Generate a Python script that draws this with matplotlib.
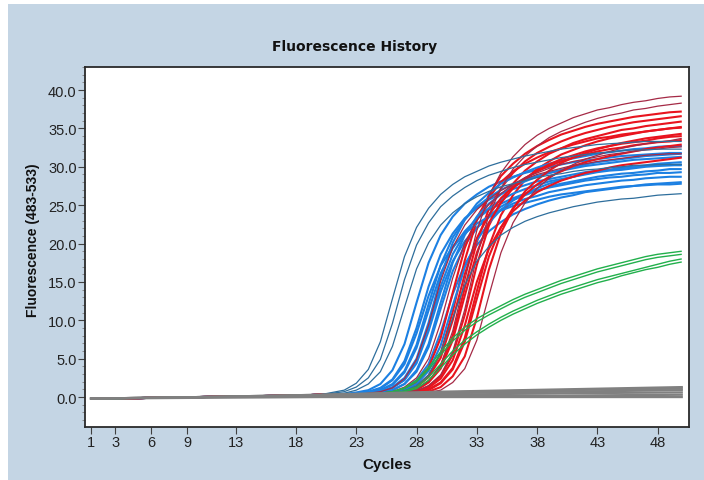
import matplotlib
matplotlib.use("Agg")
import matplotlib.pyplot as plt
from matplotlib.patches import Rectangle
from matplotlib.ticker import MultipleLocator
from matplotlib import font_manager

# flat start shared by all amplification curves (cycles 1-20)
early_cycles = [1, 3, 6, 10, 14, 18, 20]
early_values = [-0.2, -0.2, -0.1, 0.0, 0.1, 0.2, 0.3]
late_cycles = list(range(21, 51))

# fluorescence for cycles 21..50
red_bright = [
    [0.3, 0.3, 0.3, 0.3, 0.3, 0.5, 0.7, 1.4, 2.8, 5.7, 11.1, 17.8, 23.0, 26.3, 28.8, 30.4, 31.7, 32.7, 33.5, 34.2, 34.7, 35.2, 35.6, 35.9, 36.2, 36.5, 36.7, 36.9, 37.1, 37.2],
    [0.3, 0.3, 0.3, 0.3, 0.3, 0.4, 0.6, 1.0, 2.0, 4.0, 8.0, 14.2, 20.2, 24.5, 27.2, 29.2, 30.7, 31.8, 32.6, 33.3, 33.9, 34.4, 34.8, 35.2, 35.5, 35.8, 36.0, 36.2, 36.4, 36.6],
    [0.3, 0.3, 0.3, 0.3, 0.3, 0.3, 0.5, 0.7, 1.4, 2.7, 5.5, 10.7, 17.2, 22.3, 25.5, 27.8, 29.5, 30.7, 31.7, 32.4, 33.1, 33.6, 34.0, 34.4, 34.8, 35.0, 35.3, 35.5, 35.7, 35.9],
    [0.3, 0.3, 0.3, 0.3, 0.3, 0.3, 0.4, 0.6, 1.0, 1.9, 3.8, 7.7, 13.8, 19.6, 23.7, 26.3, 28.3, 29.7, 30.7, 31.6, 32.2, 32.8, 33.3, 33.7, 34.0, 34.3, 34.6, 34.8, 35.0, 35.2],
    [0.3, 0.3, 0.3, 0.3, 0.4, 0.6, 1.0, 1.9, 3.8, 7.7, 13.6, 19.4, 23.4, 26.0, 28.0, 29.4, 30.4, 31.2, 31.9, 32.4, 32.9, 33.3, 33.7, 33.9, 34.2, 34.4, 34.6, 34.8, 35.0, 35.1],
    [0.3, 0.3, 0.3, 0.3, 0.3, 0.3, 0.3, 0.5, 0.7, 1.3, 2.7, 5.3, 10.3, 16.6, 21.4, 24.5, 26.8, 28.3, 29.5, 30.5, 31.2, 31.8, 32.3, 32.7, 33.1, 33.4, 33.7, 33.9, 34.1, 34.3],
    [0.3, 0.3, 0.3, 0.3, 0.3, 0.4, 0.6, 0.9, 1.9, 3.7, 7.4, 13.2, 18.8, 22.7, 25.3, 27.2, 28.5, 29.5, 30.3, 31.0, 31.5, 32.0, 32.4, 32.7, 33.0, 33.2, 33.4, 33.7, 33.9, 34.0],
    [0.3, 0.3, 0.3, 0.3, 0.3, 0.5, 0.7, 1.3, 2.6, 5.1, 10.0, 16.0, 20.7, 23.7, 25.9, 27.4, 28.5, 29.4, 30.1, 30.7, 31.2, 31.6, 32.0, 32.3, 32.5, 32.8, 33.0, 33.2, 33.3, 33.5],
    [0.3, 0.3, 0.3, 0.3, 0.3, 0.3, 0.4, 0.6, 0.9, 1.8, 3.6, 7.2, 12.8, 18.3, 22.1, 24.6, 26.4, 27.7, 28.7, 29.4, 30.1, 30.6, 31.0, 31.4, 31.7, 32.0, 32.3, 32.5, 32.7, 32.9],
    [0.3, 0.3, 0.3, 0.3, 0.3, 0.3, 0.5, 0.7, 1.2, 2.4, 4.8, 9.3, 15.0, 19.3, 22.1, 24.2, 25.6, 26.7, 27.5, 28.2, 28.7, 29.2, 29.5, 29.9, 30.2, 30.4, 30.6, 30.8, 31.0, 31.2],
]
red_dark = [
    [0.3, 0.3, 0.3, 0.3, 0.3, 0.4, 0.6, 1.0, 2.1, 4.2, 8.6, 15.2, 21.7, 26.2, 29.2, 31.3, 32.9, 34.1, 35.0, 35.7, 36.4, 36.9, 37.4, 37.7, 38.1, 38.4, 38.6, 38.9, 39.1, 39.2],
    [0.3, 0.3, 0.3, 0.3, 0.3, 0.3, 0.5, 0.8, 1.5, 2.9, 5.9, 11.4, 18.3, 23.7, 27.2, 29.7, 31.4, 32.7, 33.8, 34.6, 35.2, 35.8, 36.3, 36.7, 37.0, 37.4, 37.6, 37.9, 38.1, 38.3],
    [0.3, 0.3, 0.3, 0.3, 0.5, 0.7, 1.3, 2.5, 5.0, 9.7, 15.5, 20.1, 23.0, 25.1, 26.5, 27.7, 28.6, 29.2, 29.8, 30.3, 30.7, 31.0, 31.3, 31.6, 31.8, 32.0, 32.2, 32.3, 32.5, 32.6],
    [0.3, 0.3, 0.3, 0.3, 0.3, 0.3, 0.3, 0.4, 0.6, 0.9, 1.9, 3.7, 7.4, 13.2, 18.8, 22.7, 25.3, 27.2, 28.5, 29.5, 30.3, 31.0, 31.5, 32.0, 32.4, 32.7, 33.0, 33.2, 33.4, 33.7],
    [0.3, 0.3, 0.3, 0.5, 0.7, 1.2, 2.4, 4.9, 9.4, 15.1, 19.5, 22.4, 24.4, 25.8, 26.9, 27.8, 28.4, 29.0, 29.4, 29.8, 30.2, 30.4, 30.7, 30.9, 31.1, 31.3, 31.5, 31.6, 31.7, 31.7],
]
blue_bright = [
    [0.3, 0.4, 0.6, 0.9, 1.7, 3.5, 6.9, 12.3, 17.5, 21.1, 23.5, 25.2, 26.4, 27.4, 28.1, 28.7, 29.2, 29.6, 30.0, 30.3, 30.6, 30.8, 31.0, 31.2, 31.4, 31.5, 31.6, 31.7, 31.8, 31.8],
    [0.3, 0.3, 0.5, 0.7, 1.2, 2.3, 4.7, 9.0, 14.4, 18.6, 21.3, 23.3, 24.6, 25.7, 26.5, 27.1, 27.6, 28.1, 28.4, 28.7, 29.0, 29.3, 29.5, 29.6, 29.8, 30.0, 30.1, 30.2, 30.2, 30.3],
    [0.3, 0.3, 0.4, 0.5, 0.9, 1.6, 3.2, 6.4, 11.3, 16.1, 19.4, 21.6, 23.2, 24.4, 25.2, 25.9, 26.5, 26.9, 27.3, 27.6, 27.9, 28.2, 28.4, 28.6, 28.7, 28.9, 29.0, 29.2, 29.2, 29.3],
    [0.3, 0.3, 0.3, 0.4, 0.6, 1.2, 2.2, 4.4, 8.6, 13.7, 17.7, 20.3, 22.1, 23.4, 24.4, 25.2, 25.8, 26.2, 26.7, 27.0, 27.3, 27.6, 27.8, 28.0, 28.2, 28.3, 28.5, 28.6, 28.7, 28.7],
    [0.3, 0.3, 0.3, 0.3, 0.4, 0.6, 1.1, 2.2, 4.3, 8.4, 13.4, 17.3, 19.8, 21.6, 22.8, 23.8, 24.5, 25.1, 25.6, 26.0, 26.3, 26.7, 26.9, 27.1, 27.3, 27.5, 27.7, 27.8, 27.9, 28.0],
    [0.3, 0.3, 0.3, 0.4, 0.5, 0.9, 1.7, 3.3, 6.5, 11.5, 16.4, 19.8, 22.0, 23.6, 24.8, 25.7, 26.3, 26.9, 27.4, 27.8, 28.1, 28.4, 28.7, 28.9, 29.1, 29.2, 29.4, 29.5, 29.7, 29.7],
    [0.3, 0.3, 0.3, 0.5, 0.7, 1.2, 2.3, 4.7, 9.0, 14.4, 18.6, 21.3, 23.3, 24.6, 25.7, 26.5, 27.1, 27.6, 28.1, 28.4, 28.7, 29.0, 29.3, 29.5, 29.6, 29.8, 30.0, 30.1, 30.2, 30.2],
    [0.3, 0.3, 0.4, 0.5, 0.9, 1.7, 3.4, 6.8, 12.1, 17.2, 20.8, 23.1, 24.8, 26.0, 27.0, 27.7, 28.3, 28.8, 29.2, 29.5, 29.8, 30.1, 30.3, 30.5, 30.7, 30.9, 31.0, 31.1, 31.2, 31.3],
    [0.3, 0.3, 0.3, 0.4, 0.6, 0.9, 1.7, 3.5, 6.9, 12.3, 17.5, 21.1, 23.5, 25.2, 26.4, 27.4, 28.1, 28.7, 29.2, 29.6, 30.0, 30.3, 30.6, 30.8, 31.0, 31.2, 31.4, 31.5, 31.6, 31.7],
    [0.3, 0.3, 0.3, 0.3, 0.4, 0.5, 0.9, 1.7, 3.4, 6.7, 11.9, 16.9, 20.4, 22.7, 24.4, 25.6, 26.5, 27.2, 27.8, 28.3, 28.7, 29.1, 29.4, 29.6, 29.9, 30.0, 30.2, 30.4, 30.5, 30.6],
    [0.3, 0.3, 0.4, 0.6, 1.1, 2.2, 4.3, 8.3, 13.2, 17.1, 19.6, 21.3, 22.6, 23.5, 24.3, 24.9, 25.3, 25.7, 26.1, 26.4, 26.6, 26.8, 27.0, 27.2, 27.4, 27.5, 27.6, 27.7, 27.7, 27.8],
    [0.3, 0.3, 0.3, 0.5, 0.7, 1.3, 2.5, 5.0, 9.7, 15.6, 20.1, 23.1, 25.2, 26.6, 27.8, 28.6, 29.3, 29.9, 30.4, 30.8, 31.1, 31.4, 31.7, 31.9, 32.1, 32.3, 32.4, 32.6, 32.7, 32.7],
]
blue_dark = [
    [0.6, 0.9, 1.8, 3.6, 7.2, 12.8, 18.3, 22.1, 24.6, 26.4, 27.7, 28.7, 29.4, 30.1, 30.6, 31.0, 31.4, 31.7, 32.0, 32.3, 32.5, 32.7, 32.9, 33.0, 33.1, 33.2, 33.3, 33.3, 33.3, 33.3],
    [0.5, 0.7, 1.3, 2.5, 4.9, 9.6, 15.3, 19.8, 22.7, 24.8, 26.2, 27.3, 28.2, 28.9, 29.4, 29.9, 30.3, 30.6, 30.9, 31.2, 31.4, 31.6, 31.8, 31.9, 32.1, 32.2, 32.2, 32.3, 32.3, 32.3],
    [0.4, 0.5, 0.9, 1.7, 3.3, 6.6, 11.7, 16.7, 20.1, 22.4, 24.0, 25.2, 26.1, 26.8, 27.4, 27.8, 28.2, 28.6, 28.9, 29.1, 29.4, 29.6, 29.7, 29.9, 30.0, 30.2, 30.2, 30.3, 30.3, 30.3],
    [0.3, 0.3, 0.3, 0.3, 0.4, 0.5, 0.8, 1.5, 2.9, 5.8, 10.3, 14.6, 17.7, 19.6, 21.1, 22.1, 22.9, 23.5, 24.0, 24.4, 24.8, 25.1, 25.4, 25.6, 25.8, 25.9, 26.1, 26.3, 26.4, 26.5],
]
green_curves = [
    [0.3, 0.3, 0.3, 0.3, 0.4, 0.5, 0.7, 1.1, 2.2, 3.8, 5.5, 6.9, 8.1, 9.1, 10.0, 10.8, 11.5, 12.2, 12.8, 13.4, 13.9, 14.4, 14.9, 15.3, 15.8, 16.2, 16.6, 16.9, 17.3, 17.6],
    [0.3, 0.3, 0.3, 0.3, 0.4, 0.5, 0.8, 1.3, 2.6, 4.3, 6.0, 7.4, 8.5, 9.5, 10.4, 11.2, 11.9, 12.6, 13.2, 13.8, 14.3, 14.8, 15.3, 15.7, 16.1, 16.5, 16.9, 17.3, 17.7, 18.0],
    [0.3, 0.3, 0.3, 0.4, 0.5, 0.7, 1.1, 2.0, 3.6, 5.5, 7.3, 8.7, 9.8, 10.7, 11.5, 12.3, 13.0, 13.6, 14.2, 14.8, 15.3, 15.8, 16.3, 16.7, 17.1, 17.5, 17.9, 18.2, 18.4, 18.6],
    [0.3, 0.3, 0.3, 0.4, 0.5, 0.7, 1.2, 2.2, 3.9, 5.9, 7.7, 9.1, 10.2, 11.1, 11.9, 12.7, 13.4, 14.0, 14.6, 15.2, 15.7, 16.2, 16.7, 17.1, 17.5, 17.9, 18.3, 18.6, 18.8, 19.0],
]

# negative controls, nearly flat
grey_cycles = [1, 10, 20, 30, 40, 50]
grey_curves = [
    [-0.2, 0.0, 0.3, 0.7, 1.0, 1.3],
    [-0.2, 0.0, 0.3, 0.6, 0.9, 1.1],
    [-0.2, 0.0, 0.2, 0.5, 0.7, 0.9],
    [-0.2, 0.0, 0.2, 0.3, 0.5, 0.6],
    [-0.2, 0.0, 0.1, 0.2, 0.2, 0.3],
    [-0.2, -0.1, 0.0, 0.0, 0.0, 0.0],
]

cycle_ticks = [1, 3, 6, 9, 13, 18, 23, 28, 33, 38, 43, 48]
fluor_ticks = [0, 5, 10, 15, 20, 25, 30, 35, 40]

installed = {f.name for f in font_manager.fontManager.ttflist}
narrow = "Liberation Sans Narrow" if "Liberation Sans Narrow" in installed else "Liberation Sans"

panel = "#c4d5e4"
fig = plt.figure(figsize=(7.04, 4.81), dpi=100, facecolor="white")
fig.patches.append(Rectangle((8 / 704, 0), 1, 1 - 5 / 481, transform=fig.transFigure,
                             facecolor=panel, edgecolor="none", zorder=-5))
ax = fig.add_axes([85 / 704, 1 - 428 / 481, 604 / 704, 360 / 481])
ax.set_zorder(2)
ax.set_facecolor("white")

xs = early_cycles + late_cycles


def draw(curves, color, lw):
    for vals in curves:
        ax.plot(xs, early_values + vals, color=color, lw=lw, solid_capstyle="butt")


draw(blue_bright[:6], "#1c80e2", 1.5)
draw(red_bright[:5], "#e8141e", 1.5)
draw(blue_bright[6:], "#1c80e2", 1.5)
draw(red_bright[5:], "#e8141e", 1.5)
draw(red_dark, "#a52a46", 0.9)
draw(blue_dark, "#2e6e9c", 0.9)
draw(green_curves, "#22b04c", 1.0)
for vals in grey_curves:
    ax.plot(grey_cycles, vals, color="#808080", lw=1.6, zorder=3)

ax.set_xlim(0.5, 50.6)
ax.set_ylim(-3.9, 43.0)
ax.set_xticks(cycle_ticks)
ax.set_xticklabels([str(c) for c in cycle_ticks])
ax.set_yticks(fluor_ticks)
ax.set_yticklabels([f"{v:.1f}" for v in fluor_ticks])
ax.yaxis.set_minor_locator(MultipleLocator(1))
ax.tick_params(axis="both", which="major", length=5, width=0.8, color="#404040",
               labelsize=10.5, pad=1)
ax.tick_params(axis="y", which="minor", length=2, width=0.6, color="#808080")
for lab in ax.get_xticklabels() + ax.get_yticklabels():
    lab.set_fontfamily(narrow)
    lab.set_color("#222222")
for sp in ax.spines.values():
    sp.set_linewidth(1.3)
    sp.set_color("#2a2a2a")

fig.text(355 / 704, 1 - 47 / 481, "Fluorescence History", ha="center", va="center",
         fontsize=10, fontweight="bold", color="#111111")
fig.text(33 / 704, 1 - 240 / 481, "Fluorescence (483-533)", ha="center", va="center",
         rotation=90, fontsize=10, fontweight="bold", family="Liberation Sans", color="#111111")
fig.text(387 / 704, 1 - 465 / 481, "Cycles", ha="center", va="center",
         fontsize=11, fontweight="bold", family=narrow, color="#111111")

fig.savefig("out.png", dpi=100, facecolor=fig.get_facecolor())
